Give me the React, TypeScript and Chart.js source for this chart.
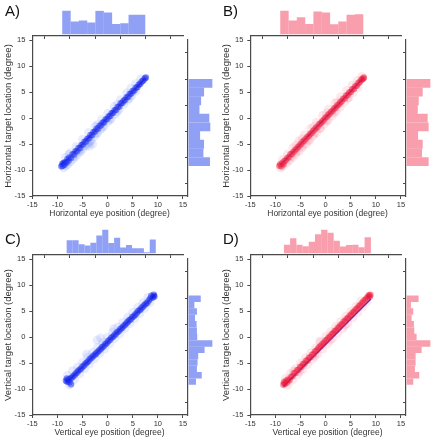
import React, { useEffect, useRef } from "react";
import { Chart, registerables } from "chart.js";

Chart.register(...registerables);

const FONT = '"Liberation Sans", Arial, Helvetica, sans-serif';
const AXIS = "#4a4a4a";
const TEXT = "#333333";

// ---------- tick values ----------
const axisTicks = [-15, -10, -5, 0, 5, 10, 15];

// ---------- A: horizontal, blue ----------
const aCore: [number, number][] = [
  [-9.2, -9.3], [-9.0, -8.8], [-8.9, -9.2], [-8.7, -8.6], [-8.6, -9.0], [-8.4, -8.5], [-8.2, -8.6], [-8.0, -7.9],
  [-7.8, -8.2], [-7.6, -7.6], [-7.3, -7.7], [-7.0, -7.0], [-6.7, -7.0], [-6.4, -6.4], [-6.1, -6.4], [-5.8, -5.8],
  [-5.5, -5.8], [-5.2, -5.2], [-4.9, -5.1], [-4.6, -4.6], [-4.3, -4.5], [-4.0, -4.0], [-3.7, -3.9], [-3.4, -3.3],
  [-3.1, -3.3], [-2.8, -2.7], [-2.5, -2.6], [-2.2, -2.1], [-1.9, -2.0], [-1.6, -1.5], [-1.3, -1.4], [-1.0, -0.9],
  [-0.7, -0.8], [-0.4, -0.3], [-0.1, -0.2], [0.2, 0.3], [0.5, 0.4], [0.8, 0.9], [1.1, 1.0], [1.4, 1.5],
  [1.7, 1.6], [2.0, 2.1], [2.3, 2.2], [2.6, 2.8], [2.9, 2.9], [3.2, 3.3], [3.5, 3.5], [3.8, 4.0],
  [4.1, 4.1], [4.4, 4.6], [4.7, 4.7], [5.0, 5.2], [5.3, 5.3], [5.6, 5.8], [5.9, 5.9], [6.2, 6.4],
  [6.5, 6.6], [6.8, 7.0], [7.1, 7.2], [7.4, 7.6], [7.6, 7.8],
];
const aHalo: [number, number][] = [
  [-8.8, -9.6], [-8.3, -9.2], [-7.9, -8.9], [-7.4, -8.4], [-6.9, -7.9], [-6.5, -7.5], [-6.0, -7.0], [-5.4, -6.5],
  [-5.0, -6.0], [-4.3, -5.4], [-3.8, -4.9], [-3.3, -4.3], [-2.6, -3.5], [-2.0, -2.9], [-1.4, -2.2], [-0.8, -1.6],
  [0.0, -0.8], [0.7, -0.1], [1.5, 0.7], [2.3, 1.6], [3.2, 2.6], [4.0, 3.4], [4.8, 4.3], [5.6, 5.2],
  [-8.4, -7.6], [-7.5, -6.7], [-6.3, -5.5], [-5.0, -4.1], [-3.8, -2.8], [-2.5, -1.6], [-1.2, -0.3], [0.0, 0.9],
  [1.3, 2.2], [2.6, 3.5], [3.8, 4.8], [4.6, 5.7], [5.6, 6.6], [6.6, 7.5],
  [-6.8, -7.3], [-5.7, -6.4], [-4.6, -5.3], [-3.5, -4.6], [-2.3, -3.0], [-1.1, -1.9], [0.4, -0.4], [1.9, 1.2],
  [-3.6, -5.4], [-3.0, -5.0], [-7.7, -7.0], [-2.0, -1.3], [2.0, 2.7], [4.3, 3.8],
];
const aFit: [number, number][] = [[-9.0, -9.1], [7.5, 7.7]];
const aTopCenters = [-8.2, -6.55, -4.9, -3.25, -1.6, 0.05, 1.7, 3.35, 5.0, 6.65];
const aTopCounts = [71, 38, 41, 35, 70, 65, 31, 33, 58, 58];
const hRightCenters = [6.66, 4.99, 3.32, 1.64, -0.03, -1.7, -3.37, -5.05, -6.72, -8.39];
const aRightCounts = [73, 47, 38, 33, 63, 66, 35, 47, 45, 65];

// ---------- B: horizontal, red ----------
const bCore: [number, number][] = [
  [-9.2, -9.2], [-9.0, -8.9], [-8.8, -9.3], [-8.6, -8.6], [-8.4, -8.9], [-8.2, -8.3], [-7.9, -8.1], [-7.6, -7.7],
  [-7.3, -7.5], [-7.0, -7.0], [-6.7, -6.9], [-6.4, -6.5], [-6.1, -6.2], [-5.8, -5.9], [-5.5, -5.6], [-5.2, -5.3],
  [-4.9, -5.0], [-4.6, -4.6], [-4.3, -4.4], [-4.0, -4.1], [-3.7, -3.7], [-3.4, -3.5], [-3.1, -3.1], [-2.8, -2.9],
  [-2.5, -2.5], [-2.2, -2.2], [-1.9, -1.9], [-1.6, -1.7], [-1.3, -1.2], [-1.0, -1.0], [-0.7, -0.7], [-0.4, -0.4],
  [-0.1, 0.0], [0.2, 0.2], [0.5, 0.6], [0.8, 0.8], [1.1, 1.2], [1.4, 1.4], [1.7, 1.8], [2.0, 2.0],
  [2.3, 2.4], [2.6, 2.6], [2.9, 3.0], [3.2, 3.2], [3.5, 3.7], [3.8, 3.8], [4.1, 4.3], [4.4, 4.4],
  [4.7, 4.9], [5.0, 5.0], [5.3, 5.5], [5.6, 5.6], [5.9, 6.1], [6.2, 6.2], [6.5, 6.7], [6.8, 6.9],
  [7.1, 7.3], [7.3, 7.5], [7.5, 7.6], [7.6, 7.8],
];
const bHalo: [number, number][] = [
  [-9.0, -9.6], [-8.5, -9.3], [-7.8, -8.7], [-7.2, -8.2], [-6.6, -7.6], [-6.0, -7.0], [-5.3, -6.4], [-4.6, -5.7],
  [-3.9, -5.0], [-3.2, -4.3], [-2.5, -3.5], [-1.8, -2.8], [-1.0, -2.0], [-0.3, -1.2], [0.5, -0.4], [1.3, 0.4],
  [2.1, 1.3], [2.9, 2.1], [3.7, 3.0], [4.6, 3.9], [5.5, 4.9], [6.4, 5.9],
  [-8.6, -8.0], [-7.6, -6.9], [-6.5, -5.7], [-5.3, -4.4], [-4.2, -3.2], [-3.0, -2.0], [-1.8, -0.8], [-0.6, 0.5],
  [0.6, 1.7], [1.8, 2.9], [3.0, 4.1], [4.2, 5.3], [5.3, 6.3], [6.3, 7.2], [7.2, 8.0],
  [-6.9, -7.4], [-5.8, -6.5], [-4.7, -5.4], [-3.5, -4.4], [-2.3, -3.1], [-1.2, -2.0], [0.2, -0.6], [1.7, 1.0],
  [-5.9, -5.2], [-4.7, -4.0], [-2.4, -1.7], [0.2, 0.9], [2.4, 3.1], [4.4, 3.8],
];
const bFit: [number, number][] = [[-9.0, -9.1], [7.5, 7.7]];
const bTopCenters = [-8.2, -6.55, -4.9, -3.25, -1.6, 0.05, 1.7, 3.35, 5.0, 6.65];
const bTopCounts = [71, 41, 51, 31, 68, 65, 30, 38, 58, 60];
const bRightCounts = [73, 49, 37, 34, 64, 67, 35, 49, 47, 67];

// ---------- C: vertical, blue ----------
const cCore: [number, number][] = [
  [-8.3, -8.4], [-8.1, -8.0], [-8.0, -8.6], [-7.8, -8.2], [-7.6, -8.7], [-7.4, -8.0], [-7.3, -9.1], [-7.1, -7.8],
  [-6.8, -7.5], [-6.5, -7.2], [-6.2, -6.9], [-5.9, -6.6], [-5.6, -6.3], [-5.3, -6.1], [-5.0, -5.7], [-4.7, -5.5],
  [-4.4, -5.1], [-4.1, -4.9], [-3.8, -4.6], [-3.5, -4.2], [-3.2, -4.0], [-2.9, -3.7], [-2.6, -3.4], [-2.3, -3.2],
  [-2.0, -2.9], [-1.7, -2.6], [-1.4, -2.3], [-1.1, -2.0], [-0.8, -1.8], [-0.5, -1.4], [-0.2, -1.2], [0.1, -0.8],
  [0.4, -0.6], [0.7, -0.2], [1.0, 0.0], [1.3, 0.3], [1.6, 0.6], [1.9, 0.9], [2.2, 1.1], [2.5, 1.5],
  [2.8, 1.7], [3.1, 2.0], [3.4, 2.3], [3.7, 2.6], [4.0, 2.9], [4.3, 3.2], [4.6, 3.4], [4.9, 3.8],
  [5.2, 4.0], [5.5, 4.3], [5.8, 4.6], [6.1, 5.0], [6.4, 5.2], [6.7, 5.5], [7.0, 5.8], [7.3, 6.1],
  [7.6, 6.4], [7.9, 6.6], [8.2, 7.0], [8.5, 7.4], [8.7, 7.9], [9.0, 7.6], [9.2, 8.1], [9.3, 7.8],
];
const cHalo: [number, number][] = [
  [-8.0, -7.4], [-7.0, -6.5], [-6.0, -5.8], [-5.0, -4.9], [-4.0, -3.9], [-3.0, -3.0], [-2.0, -2.0], [-1.0, -1.1],
  [0.0, -0.1], [1.0, 0.9], [2.0, 1.9], [3.0, 2.8], [4.0, 3.8], [5.0, 4.7], [6.0, 5.7], [7.0, 6.6], [8.0, 7.6],
  [-7.6, -9.2], [-6.6, -8.2], [-5.6, -7.1], [-4.6, -6.1], [-3.6, -5.2], [-2.6, -4.2], [-1.6, -3.2], [-0.6, -2.3],
  [0.4, -1.3], [1.4, -0.3], [2.4, 0.6], [3.4, 1.6], [4.4, 2.6], [5.4, 3.5], [6.4, 4.5], [7.4, 5.5], [8.4, 6.6],
  [-2.1, -0.6], [-1.4, -0.2], [1.2, 1.6], [-4.2, -3.3],
];
const cFit: [number, number][] = [[-8.2, -8.8], [9.6, 8.3]];
const cTopCenters = [-7.56, -6.38, -5.2, -4.02, -2.84, -1.65, -0.47, 0.71, 1.89, 3.07, 4.25, 5.43, 6.62, 7.8, 8.98];
const cTopCounts = [41, 41, 28, 24, 33, 55, 74, 32, 48, 18, 26, 16, 16, 3, 43];
const vRightCenters = [7.35, 6.12, 4.9, 3.67, 2.45, 1.22, 0.0, -1.23, -2.45, -3.68, -4.9, -6.13, -7.35, -8.58];
const cRightCounts = [38, 18, 26, 20, 25, 26, 27, 75, 50, 30, 28, 26, 41, 23];

// ---------- D: vertical, red ----------
const dCore: [number, number][] = [
  [-8.4, -9.2], [-8.3, -8.7], [-8.1, -9.0], [-7.9, -8.4], [-7.7, -8.8], [-7.5, -8.2], [-7.2, -8.3], [-6.9, -7.7],
  [-6.6, -7.5], [-6.3, -7.0], [-6.0, -6.9], [-5.7, -6.4], [-5.4, -6.3], [-5.1, -5.8], [-4.8, -5.7], [-4.5, -5.2],
  [-4.2, -5.1], [-3.9, -4.6], [-3.6, -4.5], [-3.3, -4.0], [-3.0, -3.9], [-2.7, -3.4], [-2.4, -3.3], [-2.1, -2.8],
  [-1.8, -2.6], [-1.5, -2.2], [-1.2, -1.9], [-0.9, -1.7], [-0.6, -1.3], [-0.3, -1.1], [0.0, -0.7], [0.3, -0.5],
  [0.6, -0.1], [0.9, 0.1], [1.2, 0.5], [1.5, 0.7], [1.8, 1.1], [2.1, 1.3], [2.4, 1.7], [2.7, 1.9],
  [3.0, 2.3], [3.3, 2.5], [3.6, 2.9], [3.9, 3.1], [4.2, 3.5], [4.5, 3.7], [4.8, 4.1], [5.1, 4.3],
  [5.4, 4.7], [5.7, 4.9], [6.0, 5.3], [6.3, 5.5], [6.6, 5.9], [6.9, 6.1], [7.2, 6.5], [7.5, 6.8],
  [7.8, 7.1], [8.1, 7.4], [8.4, 7.7], [8.6, 8.0], [8.8, 7.8], [8.9, 8.1],
];
const dHalo: [number, number][] = [
  [-8.0, -8.0], [-7.0, -7.0], [-6.0, -6.1], [-5.0, -5.0], [-4.0, -4.0], [-3.0, -3.1], [-2.0, -2.1], [-1.0, -1.0],
  [0.0, 0.1], [1.0, 1.0], [2.0, 2.0], [3.0, 3.0], [4.0, 4.0], [5.0, 4.9], [6.0, 5.9], [7.0, 6.9],
  [-7.6, -9.3], [-6.6, -8.3], [-5.6, -7.3], [-4.6, -6.3], [-3.6, -5.3], [-2.6, -4.3], [-1.6, -3.3], [-0.6, -2.3],
  [0.4, -1.3], [1.4, -0.3], [2.4, 0.7], [3.4, 1.6], [4.4, 2.6], [5.4, 3.7], [6.4, 4.7], [7.4, 5.8], [8.2, 6.8],
  [-5.2, -6.7], [-2.2, -3.7], [0.9, -0.6], [3.9, 2.3], [-6.4, -6.6], [-1.2, -0.8],
];
const dFit: [number, number][] = [[-8.4, -9.5], [9.0, 7.3]];
const dTopCenters = [-7.68, -6.45, -5.21, -3.98, -2.74, -1.5, -0.27, 0.97, 2.2, 3.44, 4.68, 5.91, 7.15, 8.38];
const dTopCounts = [27, 47, 27, 22, 36, 59, 74, 64, 39, 21, 26, 27, 19, 50];
const dRightCounts = [36, 13, 20, 15, 22, 23, 30, 72, 45, 27, 27, 25, 38, 20];

// ---------- styles ----------
const BLUE = {
  core: "rgba(10,30,240,0.5)",
  halo: "rgba(80,105,245,0.13)",
  hist: "rgb(143,160,245)",
  line: "rgb(235,25,60)",
};
const RED = {
  core: "rgba(235,10,45,0.45)",
  halo: "rgba(242,80,110,0.13)",
  hist: "rgb(248,158,172)",
  line: "rgb(40,40,235)",
};

type Pair = [number, number];
type Panel = {
  ox: number; oy: number; letter: string; letterTop: number;
  xTitle: string; yTitle: string;
  core: Pair[]; halo: Pair[]; fit: Pair[];
  topCenters: number[]; topCounts: number[];
  rightCenters: number[]; rightCounts: number[];
  pal: typeof BLUE;
};

const panels: Panel[] = [
  { ox: 0, oy: 0, letter: "A)", letterTop: 3, xTitle: "Horizontal eye position (degree)", yTitle: "Horizontal target location (degree)",
    core: aCore, halo: aHalo, fit: aFit, topCenters: aTopCenters, topCounts: aTopCounts, rightCenters: hRightCenters, rightCounts: aRightCounts, pal: BLUE },
  { ox: 218, oy: 0, letter: "B)", letterTop: 3, xTitle: "Horizontal eye position (degree)", yTitle: "Horizontal target location (degree)",
    core: bCore, halo: bHalo, fit: bFit, topCenters: bTopCenters, topCounts: bTopCounts, rightCenters: hRightCenters, rightCounts: bRightCounts, pal: RED },
  { ox: 0, oy: 219, letter: "C)", letterTop: 231, xTitle: "Vertical eye position (degree)", yTitle: "Vertical target location (degree)",
    core: cCore, halo: cHalo, fit: cFit, topCenters: cTopCenters, topCounts: cTopCounts, rightCenters: vRightCenters, rightCounts: cRightCounts, pal: BLUE },
  { ox: 218, oy: 219, letter: "D)", letterTop: 231, xTitle: "Vertical eye position (degree)", yTitle: "Vertical target location (degree)",
    core: dCore, halo: dHalo, fit: dFit, topCenters: dTopCenters, topCounts: dTopCounts, rightCenters: vRightCenters, rightCounts: dRightCounts, pal: RED },
];

const setTicks = (s: any) => {
  s.ticks = axisTicks.map((v) => ({ value: v }));
};

const gridOpts = (len: number) => ({
  display: true,
  drawOnChartArea: false,
  drawTicks: true,
  tickLength: len,
  color: AXIS,
  lineWidth: 1,
});
const borderOpts = { display: true, color: AXIS, width: 1.2 };

function mainConfig(p: Panel): any {
  return {
    type: "scatter",
    data: {
      datasets: [
        { data: p.halo.map(([x, y]) => ({ x, y })), pointRadius: 4.5, backgroundColor: p.pal.halo, borderWidth: 0, pointBorderWidth: 0 },
        { data: p.core.map(([x, y]) => ({ x, y })), pointRadius: 3.3, backgroundColor: p.pal.core, borderWidth: 0, pointBorderWidth: 0 },
        { data: p.fit.map(([x, y]) => ({ x, y })), showLine: true, pointRadius: 0, borderColor: p.pal.line, borderWidth: 1.5 },
      ],
    },
    options: {
      animation: false,
      responsive: false,
      events: [],
      layout: { padding: { left: 2.5, top: 36, right: 30.3, bottom: 0.4 } },
      plugins: { legend: { display: false }, tooltip: { enabled: false } },
      scales: {
        x: {
          type: "linear", min: -15, max: 15.74,
          afterBuildTicks: setTicks,
          afterFit: (s: any) => { s.height = 22.6; },
          grid: gridOpts(3),
          border: borderOpts,
          ticks: { font: { size: 7.5, family: FONT }, color: TEXT, padding: 1.5, maxRotation: 0, autoSkip: false },
          title: { display: true, text: p.xTitle, font: { size: 8.5, family: FONT }, color: TEXT, padding: 0 },
        },
        y: {
          type: "linear", min: -15, max: 15.77,
          afterBuildTicks: setTicks,
          afterFit: (s: any) => { s.width = 29.8; },
          grid: gridOpts(3),
          border: borderOpts,
          ticks: { font: { size: 7.5, family: FONT }, color: TEXT, padding: 4, autoSkip: false },
          title: { display: true, text: p.yTitle, font: { size: 9.5, family: FONT }, color: TEXT, padding: 0 },
        },
      },
    },
  };
}

function topConfig(p: Panel): any {
  const m = Math.max(...p.topCounts);
  return {
    type: "bar",
    data: {
      datasets: [{
        data: p.topCenters.map((x, i) => ({ x, y: p.topCounts[i] })),
        backgroundColor: p.pal.hist,
        borderWidth: 0,
        categoryPercentage: 1,
        barPercentage: 1.02,
      }],
    },
    options: {
      animation: false,
      responsive: false,
      events: [],
      layout: { padding: { left: 32.3, right: 34, top: 10.5, bottom: 0 } },
      plugins: { legend: { display: false }, tooltip: { enabled: false } },
      scales: {
        x: {
          type: "linear", min: -15, max: 15, offset: false,
          afterBuildTicks: setTicks,
          afterFit: (s: any) => { s.height = 4; },
          grid: gridOpts(3),
          border: borderOpts,
          ticks: { display: false },
        },
        y: { type: "linear", display: false, min: -0.07 * m, max: m },
      },
    },
  };
}

function rightConfig(p: Panel): any {
  const m = Math.max(...p.rightCounts);
  return {
    type: "bar",
    data: {
      datasets: [{
        data: p.rightCenters.map((y, i) => ({ x: p.rightCounts[i], y })),
        backgroundColor: p.pal.hist,
        borderWidth: 0,
        categoryPercentage: 1,
        barPercentage: 1.02,
      }],
    },
    options: {
      indexAxis: "y",
      animation: false,
      responsive: false,
      events: [],
      layout: { padding: { left: 0, right: 4.4, top: 4, bottom: 4 } },
      plugins: { legend: { display: false }, tooltip: { enabled: false } },
      scales: {
        y: {
          type: "linear", min: -15, max: 15, offset: false,
          afterBuildTicks: setTicks,
          afterFit: (s: any) => { s.width = 5; },
          grid: gridOpts(3),
          border: borderOpts,
          ticks: { display: false },
        },
        x: { type: "linear", display: false, min: -0.025 * m, max: m },
      },
    },
  };
}

function ChartCanvas(props: { left: number; top: number; width: number; height: number; make: () => any }) {
  const ref = useRef<HTMLCanvasElement>(null);
  useEffect(() => {
    const chart = new Chart(ref.current as HTMLCanvasElement, props.make());
    return () => chart.destroy();
  }, []);
  return (
    <canvas
      ref={ref}
      width={props.width}
      height={props.height}
      style={{ position: "absolute", left: props.left, top: props.top, width: props.width, height: props.height }}
    />
  );
}

function PanelView({ p }: { p: Panel }) {
  return (
    <>
      <ChartCanvas left={p.ox} top={p.oy} width={217} height={219} make={() => mainConfig(p)} />
      <ChartCanvas left={p.ox} top={p.oy} width={217} height={40} make={() => topConfig(p)} />
      <ChartCanvas left={p.ox + 183} top={p.oy + 36} width={34} height={164} make={() => rightConfig(p)} />
      <div
        style={{
          position: "absolute",
          left: p.ox + 5,
          top: p.letterTop,
          fontFamily: FONT,
          fontSize: 15,
          lineHeight: "15px",
          color: "#111",
        }}
      >
        {p.letter}
      </div>
    </>
  );
}

export default function App() {
  return (
    <div style={{ position: "absolute", left: 0, top: 0, width: 434, height: 440, background: "#fff", overflow: "hidden" }}>
      {panels.map((p) => (
        <PanelView key={p.letter} p={p} />
      ))}
    </div>
  );
}
